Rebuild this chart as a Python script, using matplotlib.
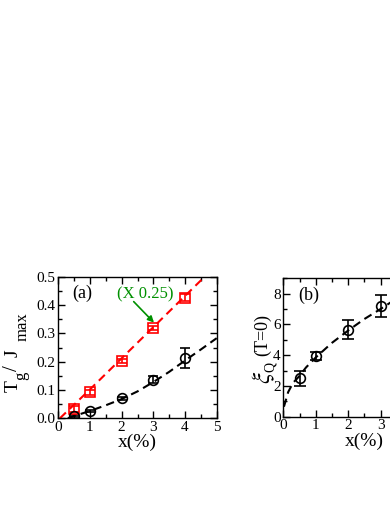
import numpy as np
import matplotlib
matplotlib.use('Agg')
import matplotlib.pyplot as plt
from matplotlib.ticker import MultipleLocator

plt.rcParams['font.family'] = ['Liberation Serif', 'DejaVu Serif']
plt.rcParams['mathtext.fontset'] = 'stix'

# panel (a): T_g/J_max vs x(%)
xa = [0.5, 1, 2, 3, 4]
red_y = [0.033, 0.092, 0.204, 0.318, 0.426]     # scaled by 0.25
red_err = [0.012, 0.008, 0.007, 0.007, 0.012]
blk_y = [0.008, 0.026, 0.070, 0.137, 0.213]
blk_err = [0.004, 0.004, 0.004, 0.013, 0.034]
red_fit_x = [0.05, 1, 2, 3, 4, 4.62]
red_fit_y = [0.0, 0.102, 0.212, 0.322, 0.432, 0.5]
blk_fit_x = [0.3, 0.5, 1, 1.5, 2, 2.5, 3, 3.5, 4, 4.5, 5]
blk_fit_y = [0.0, 0.008, 0.026, 0.046, 0.068, 0.095, 0.128, 0.164, 0.204, 0.243, 0.283]

# panel (b): xi_Q(T=0) vs x(%)
xb = [0.5, 1, 2, 3]
xi_y = [2.5, 3.95, 5.65, 7.2]
xi_err = [0.5, 0.25, 0.62, 0.72]
xi_fit_x = [0.02, 0.15, 0.3, 0.5, 0.7, 1.0, 1.5, 2.0, 2.5, 3.0, 3.4]
xi_fit_y = [0.65, 1.6, 2.2, 2.65, 3.2, 3.85, 4.8, 5.6, 6.35, 7.0, 7.55]

W, H = 390, 505
fig = plt.figure(figsize=(W/100, H/100), dpi=100)
ax1 = fig.add_axes([58.3/W, (H-418.3)/H, 158.4/W, 141.6/H])
ax2 = fig.add_axes([283.3/W, (H-416.7)/H, 162/W, 138.4/H])

def style(ax):
    ax.tick_params(which='both', direction='in', top=True, right=True, labelsize=11, pad=2)
    ax.tick_params(which='major', length=5, width=1)
    ax.tick_params(which='minor', length=3, width=1)
    for s in ax.spines.values():
        s.set_linewidth(1)

def vtext(x, y, s, size):
    # rotated label piece, baseline at pixel x, starting at pixel y (from top)
    fig.text(x/W, 1 - y/H, s, fontsize=size, rotation=90, rotation_mode='anchor',
             ha='left', va='baseline')

ax1.plot(red_fit_x, red_fit_y, color='red', ls=(0, (4, 2.5)), lw=1.5)
ax1.plot(blk_fit_x, blk_fit_y, color='black', ls=(0, (4, 2.5)), lw=1.5)
ax1.errorbar(xa, red_y, yerr=red_err, fmt='s', mfc='none', mec='red', ecolor='red',
             ms=6.5, mew=1.2, capsize=3.5, elinewidth=1.2, capthick=1.2)
ax1.errorbar(xa, blk_y, yerr=blk_err, fmt='o', mfc='none', mec='black', ecolor='black',
             ms=7, mew=1.2, capsize=3.5, elinewidth=1.2, capthick=1.2)
ax1.set_xlim(0, 5)
ax1.set_ylim(0, 0.5)
ax1.xaxis.set_major_locator(MultipleLocator(1))
ax1.xaxis.set_minor_locator(MultipleLocator(0.5))
ax1.yaxis.set_major_locator(MultipleLocator(0.1))
ax1.yaxis.set_minor_locator(MultipleLocator(0.05))
ax1.set_xlabel('x(%)', fontsize=14, labelpad=0)
ax1.text(0.45, 0.44, '(a)', fontsize=13, va='center')
ax1.text(1.85, 0.437, '(X 0.25)', color='#009000', fontsize=12, va='center')
ax1.annotate('', xy=(3.02, 0.338), xytext=(2.38, 0.412),
             arrowprops=dict(arrowstyle='-|>', color='#009000', lw=1.2,
                             shrinkA=0, shrinkB=0, mutation_scale=9))
style(ax1)

# y label of (a): T_g/J_max
vtext(18, 392, 'T', 14)
vtext(25, 380, 'g', 12)
vtext(17, 371, '/', 15)
vtext(18, 357, 'J', 14)
vtext(27, 341, 'max', 12)

ax2.plot(xi_fit_x, xi_fit_y, color='black', ls=(0, (4, 2.5)), lw=1.5)
ax2.errorbar(xb, xi_y, yerr=xi_err, fmt='o', mfc='none', mec='black', ecolor='black',
             ms=7, mew=1.2, capsize=4, elinewidth=1.2, capthick=1.2)
ax2.set_xlim(0, 5)
ax2.set_ylim(0, 9)
ax2.xaxis.set_major_locator(MultipleLocator(1))
ax2.xaxis.set_minor_locator(MultipleLocator(0.5))
ax2.yaxis.set_major_locator(MultipleLocator(2))
ax2.yaxis.set_minor_locator(MultipleLocator(1))
ax2.set_xticks([0, 1, 2, 3, 4, 5])
ax2.set_xticklabels(['0', '1', '2', '3', '', ''])
ax2.set_xlabel('x(%)', fontsize=14, labelpad=0)
ax2.text(0.45, 7.9, '(b)', fontsize=13, va='center')
style(ax2)

# y label of (b): xi_Q(T=0)
vtext(270, 384, r'$\xi$', 18)
vtext(274, 372, 'Q', 10)
vtext(267, 356, '(T=0)', 13)

fig.savefig('out.png', dpi=100)
